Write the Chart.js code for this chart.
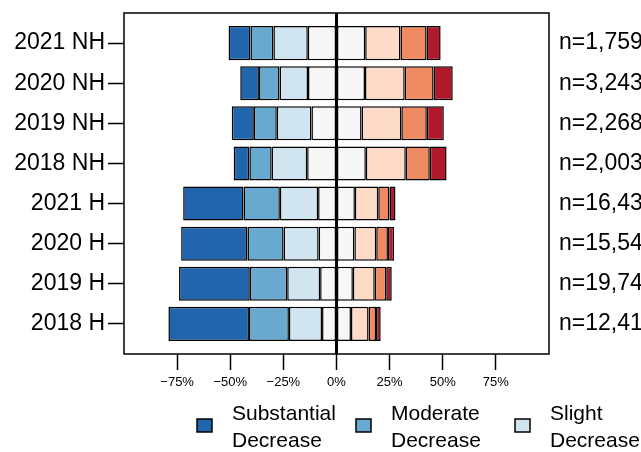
<!DOCTYPE html>
<html>
<head>
<meta charset="utf-8">
<script src="https://cdn.jsdelivr.net/npm/chart.js@4.4.1/dist/chart.umd.min.js"></script>
<style>
  body { margin: 0; background: #fff; }
  #wrap { width: 641px; height: 452px; }
</style>
</head>
<body>
<div id="wrap"><canvas id="chartArea" width="641" height="452"></canvas></div>
<script>
// ----------------------------
// data (percent of respondents, top row first)
// ----------------------------
const groups = ['2021 NH', '2020 NH', '2019 NH', '2018 NH', '2021 H', '2020 H', '2019 H', '2018 H'];
const nLabels = ['n=1,759', 'n=3,243', 'n=2,268', 'n=2,003', 'n=16,437', 'n=15,541', 'n=19,745', 'n=12,418'];

const substDec  = [10.3, 8.8, 10.4, 7.4, 28.4, 31.2, 33.3, 37.9];
const modDec    = [10.8, 9.7, 10.8, 10.5, 17.1, 17.0, 17.6, 18.8];
const slightDec = [16.2, 13.4, 16.3, 16.7, 18.0, 16.5, 15.5, 15.6];
const noChange  = [27.0, 26.8, 23.6, 27.6, 17.3, 16.8, 15.4, 13.6];
const slightInc = [16.6, 18.7, 18.7, 18.8, 11.0, 10.3, 10.3, 8.3];
const modInc    = [12.3, 13.6, 12.0, 11.3, 5.3, 5.5, 5.4, 3.5];
const substInc  = [6.6, 9.0, 8.0, 7.9, 2.8, 2.9, 2.6, 2.2];

const xTicks = [-75, -50, -25, 0, 25, 50, 75];

const legendNames = ['Substantial\nDecrease', 'Moderate\nDecrease', 'Slight\nDecrease', 'No\nChange',
  'Slight\nIncrease', 'Moderate\nIncrease', 'Substantial\nIncrease'];
const colors = ['#2166AC', '#67A9CF', '#D1E5F0', '#F7F7F7', '#FDDBC7', '#EF8A62', '#B2182B'];

const FONT = "'Liberation Sans', Arial, sans-serif";

// ----------------------------
// datasets: left side stacks outward from 0
// ----------------------------
function ds(vals, sign, color) {
  return {
    data: vals.map((v, i) => ({ x: sign * v, y: i })),
    backgroundColor: color,
    borderColor: '#000',
    borderWidth: 1.5,
    borderSkipped: false,
    stack: 's',
    barPercentage: 0.85,
    categoryPercentage: 1
  };
}

const datasets = [
  ds(noChange.map(v => v / 2), -1, colors[3]),
  ds(slightDec, -1, colors[2]),
  ds(modDec, -1, colors[1]),
  ds(substDec, -1, colors[0]),
  ds(noChange.map(v => v / 2), 1, colors[3]),
  ds(slightInc, 1, colors[4]),
  ds(modInc, 1, colors[5]),
  ds(substInc, 1, colors[6])
];

// ----------------------------
// extras: frame, zero line, n labels, legend
// ----------------------------
const extras = {
  id: 'extras',
  afterDatasetsDraw(chart) {
    const { ctx, chartArea: a, scales } = chart;
    ctx.save();
    ctx.strokeStyle = '#000';
    ctx.lineWidth = 1.5;
    ctx.strokeRect(a.left, a.top, a.right - a.left, a.bottom - a.top);

    const x0 = scales.x.getPixelForValue(0);
    ctx.lineWidth = 3;
    ctx.beginPath();
    ctx.moveTo(x0, a.top);
    ctx.lineTo(x0, a.bottom);
    ctx.stroke();

    ctx.fillStyle = '#000';
    ctx.font = '23px ' + FONT;
    ctx.textAlign = 'left';
    ctx.textBaseline = 'middle';
    nLabels.forEach((t, i) => {
      ctx.fillText(t, a.right + 10, scales.y.getPixelForValue(i));
    });

    // legend
    ctx.font = '21px ' + FONT;
    legendNames.forEach((name, i) => {
      const bx = 197 + i * 159;
      ctx.fillStyle = colors[i];
      ctx.fillRect(bx, 419, 15, 13);
      ctx.lineWidth = 1.5;
      ctx.strokeRect(bx, 419, 15, 13);
      ctx.fillStyle = '#000';
      name.split('\n').forEach((ln, k) => {
        ctx.fillText(ln, bx + 35, 414 + k * 27);
      });
    });
    ctx.restore();
  }
};

new Chart(document.getElementById('chartArea'), {
  type: 'bar',
  data: { datasets },
  options: {
    indexAxis: 'y',
    responsive: false,
    animation: false,
    layout: { padding: { left: 0, right: 92, top: 13, bottom: 0 } },
    plugins: { legend: { display: false }, tooltip: { enabled: false } },
    scales: {
      x: {
        type: 'linear',
        stacked: true,
        min: -100,
        max: 100,
        afterBuildTicks: s => { s.ticks = xTicks.map(v => ({ value: v })); },
        afterFit: s => { s.height = 98; s.paddingLeft = 0; s.paddingRight = 0; },
        border: { display: false },
        grid: { drawOnChartArea: false, drawTicks: true, tickLength: 16, tickColor: '#000', tickWidth: 1.5 },
        ticks: {
          color: '#000',
          padding: 5,
          maxRotation: 0,
          autoSkip: false,
          font: { family: FONT, size: 13 },
          callback: v => (v < 0 ? '\u2212' + Math.abs(v) : v) + '%'
        }
      },
      y: {
        type: 'linear',
        reverse: true,
        offset: false,
        min: -0.75,
        max: 7.75,
        afterBuildTicks: s => { s.ticks = groups.map((g, i) => ({ value: i })); },
        afterFit: s => { s.width = 124; s.paddingTop = 0; s.paddingBottom = 0; },
        border: { display: false },
        grid: { offset: false, drawOnChartArea: false, drawTicks: true, tickLength: 16, tickColor: '#000', tickWidth: 1.5 },
        ticks: {
          color: '#000',
          padding: 3,
          autoSkip: false,
          font: { family: FONT, size: 23 },
          callback: v => groups[v]
        }
      }
    }
  },
  plugins: [extras]
});
</script>
</body>
</html>
